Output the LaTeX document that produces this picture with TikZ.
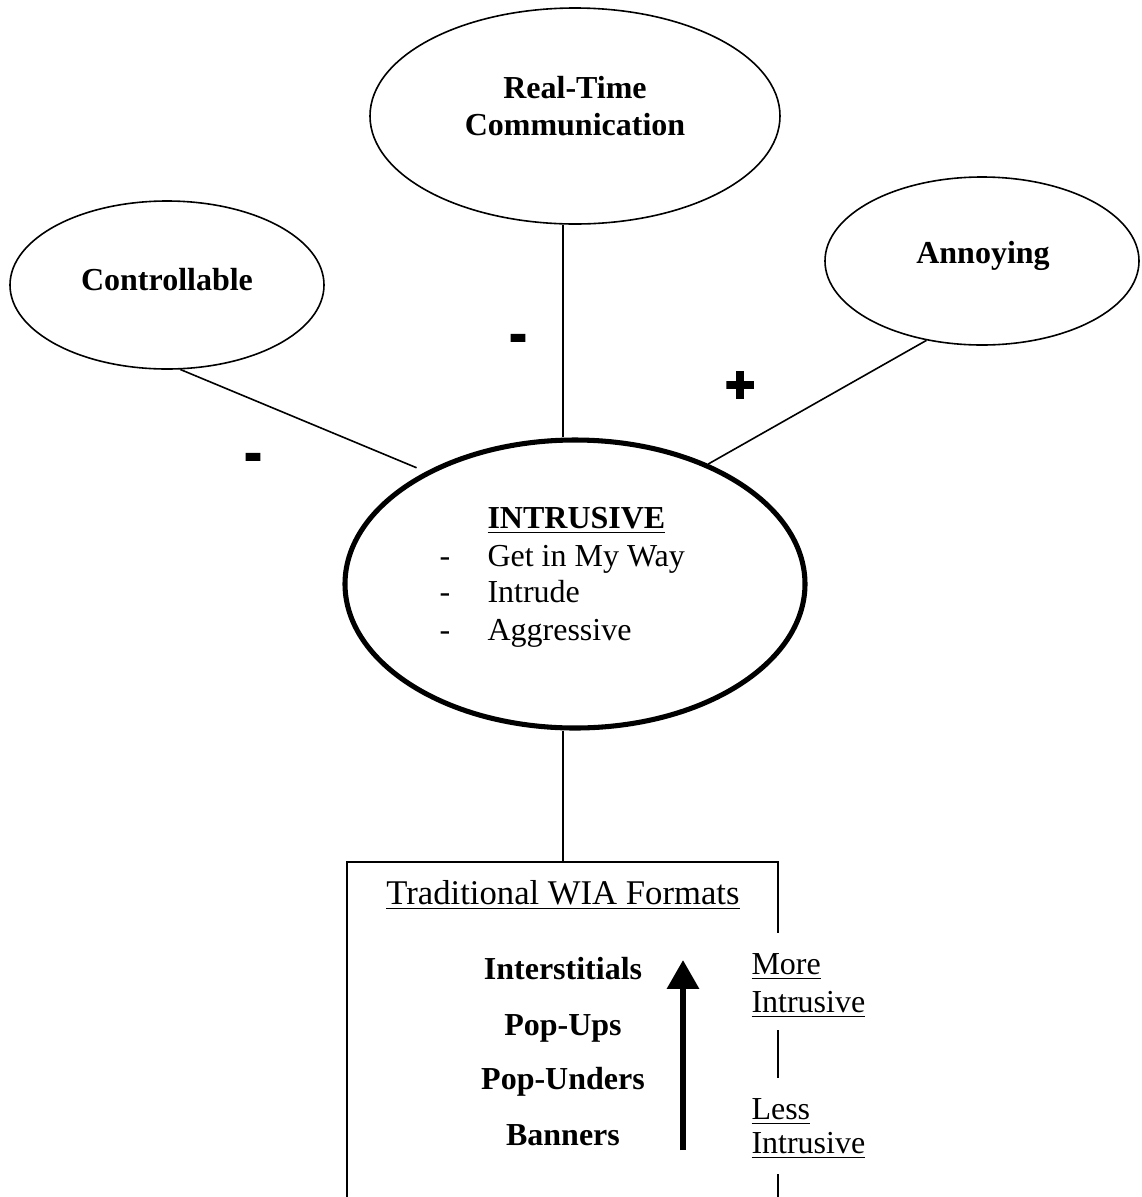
\documentclass[tikz,border=0pt]{standalone}
\usepackage{fontspec}
\setmainfont{Liberation Serif}
\newfontfamily\signfont[FakeBold=4]{Liberation Sans Bold}
\usetikzlibrary{shapes.geometric,arrows.meta,calc}

\tikzset{
  thin line/.style={line width=0.6pt},
  bubble/.style={ellipse, draw, thin line, inner sep=0pt},
  core/.style={ellipse, draw, line width=1.9pt, inner sep=0pt},
  txt/.style={inner sep=0pt, font=\fontsize{12}{13.8}\selectfont},
  btxt/.style={txt, font=\fontsize{12}{13.8}\selectfont\bfseries},
  sign/.style={inner sep=0pt, font=\fontsize{19}{19}\signfont},
}

\begin{document}
\begin{tikzpicture}[x=0.375pt, y=-0.375pt]
\useasboundingbox (0,0) rectangle (1141,1197);

% ellipses
\node[bubble, minimum width=153.75pt, minimum height=81pt] (rt) at (575,116) {};
\node[bubble, minimum width=117.75pt, minimum height=63pt] (ctrl) at (167,285) {};
\node[bubble, minimum width=117.75pt, minimum height=63pt] (ann) at (982,261) {};
\node[core, minimum width=172.5pt, minimum height=108pt] (intr) at (575,584) {};

% ellipse labels
\node[btxt, anchor=base] (rtA) at (575,98) {Real-Time};
\node[btxt, anchor=base] (rtB) at (575,135) {Communication};
\node[btxt, anchor=base] (ctrlT) at (167,290) {Controllable};
\node[btxt, anchor=base] (annT) at (983,263) {Annoying};

\node[btxt, anchor=base west] (intrT) at (487,528) {\underline{INTRUSIVE}};
\node[txt, anchor=base west] (d1) at (439,566) {-};
\node[txt, anchor=base west] (d2) at (439,602) {-};
\node[txt, anchor=base west] (d3) at (439,640) {-};
\node[txt, anchor=base west] (i1) at (487,566) {Get in My Way};
\node[txt, anchor=base west] (i2) at (487,602) {Intrude};
\node[txt, anchor=base west] (i3) at (487,640) {Aggressive};

% signs
\node[sign] (s1) at (518,343) {-};
\node[sign] (s2) at (253,462) {-};
\node[sign] (s3) at (740,387) {+};

% connectors
\draw[thin line, shorten >=3.75pt] (ctrl.-81) -- (intr.143);
\draw[thin line] ([xshift=-4.5pt]rt.south) -- ([xshift=-4.5pt]intr.north);
\draw[thin line] (ann.235) -- (intr.42);

% formats box (open at the bottom, right side broken by the labels)
\coordinate (bxtop) at (563,862);
\coordinate (bxtl) at (347,862);
\coordinate (bxbl) at (347,1197);
\coordinate (bxtr) at (778,862);
\coordinate (r1) at (778,933);
\coordinate (r2) at (778,1030);
\coordinate (r3) at (778,1078);
\coordinate (r4) at (778,1174);
\coordinate (r5) at (778,1197);
\draw[thin line] ([xshift=-4.5pt]intr.south) -- (bxtop);
\draw[thin line] (bxbl) -- (bxtl) -- (bxtr) -- (r1);
\draw[thin line] (r2) -- (r3);
\draw[thin line] (r4) -- (r5);

\node[txt, anchor=base, font=\fontsize{13}{15}\selectfont] (fmt) at (563,904) {\underline{Traditional WIA Formats}};
\node[btxt, anchor=base] (f1) at (563,979) {Interstitials};
\node[btxt, anchor=base] (f2) at (563,1035) {Pop-Ups};
\node[btxt, anchor=base] (f3) at (563,1089) {Pop-Unders};
\node[btxt, anchor=base] (f4) at (563,1145) {Banners};

\coordinate (arrbot) at (683,1150);
\coordinate (arrtop) at (683,960);
\draw[line width=2.25pt, -{Triangle[width=11.6pt,length=10.8pt]}] (arrbot) -- (arrtop);

\node[txt, anchor=base west] (m1) at (751,974) {\underline{More}};
\node[txt, anchor=base west] (m2) at (751,1012) {\underline{Intrusive}};
\node[txt, anchor=base west] (l1) at (751,1119) {\underline{Less}};
\node[txt, anchor=base west] (l2) at (751,1153) {\underline{Intrusive}};
\end{tikzpicture}
\end{document}
